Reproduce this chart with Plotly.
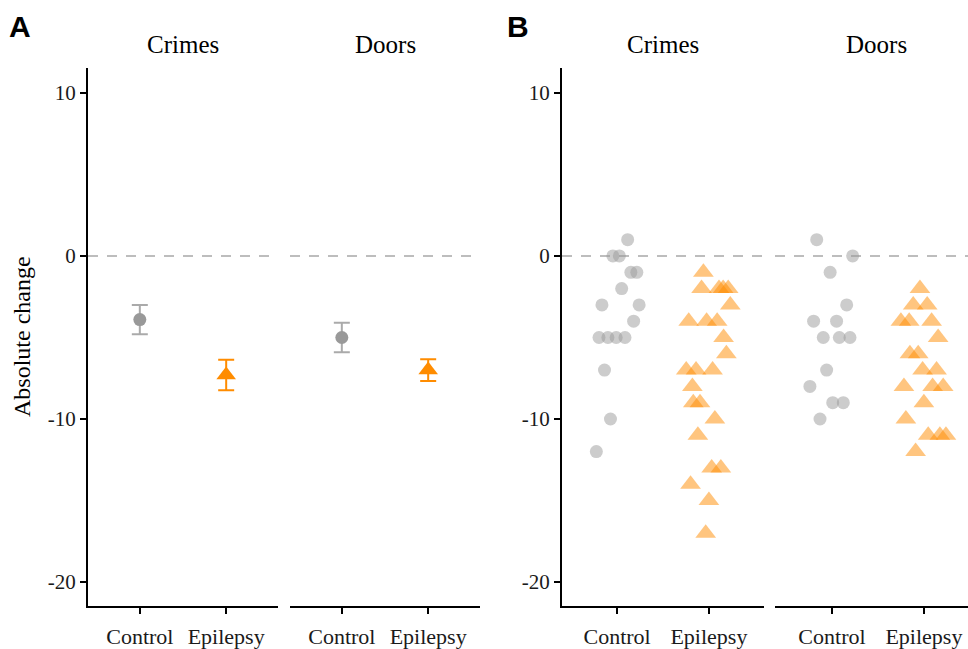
import plotly.graph_objects as go

# ---------------- data ----------------
groups = ["Control", "Epilepsy"]
tasks = ["Crimes", "Doors"]

# Panel A: mean and standard error per task/group
mean_crimes = [-3.9, -7.3]
se_crimes = [0.9, 0.93]
mean_doors = [-5.0, -7.0]
se_doors = [0.9, 0.67]

# Panel B: individual scores (with horizontal jitter)
crimes_control = [1, 0, 0, -1, -1, -2, -3, -3, -4, -5, -5, -5, -5, -7, -10, -12]
crimes_control_jit = [0.115, -0.046, 0.025, 0.15, 0.215, 0.05, -0.165, 0.24, 0.18,
                      -0.197, -0.1, -0.01, 0.086, -0.137, -0.072, -0.226]
crimes_epilepsy = [-1, -2, -2, -2, -2, -3, -4, -4, -4, -5, -6, -7, -7, -7, -8, -9, -9,
                   -10, -11, -13, -13, -14, -15, -17]
crimes_epilepsy_jit = [-0.06, -0.08, 0.11, 0.155, 0.21, 0.233, -0.22, -0.025, 0.09, 0.16,
                       0.19, -0.247, -0.14, 0.04, -0.18, -0.17, -0.097, 0.065, -0.12,
                       0.03, 0.13, -0.2, 0.0, -0.035]
doors_control = [1, 0, -1, -3, -4, -4, -5, -5, -5, -7, -8, -9, -9, -10]
doors_control_jit = [-0.166, 0.225, -0.02, 0.16, -0.2, 0.05, -0.095, 0.08, 0.196,
                     -0.058, -0.24, 0.008, 0.123, -0.13]
doors_epilepsy = [-2, -3, -3, -4, -4, -4, -5, -6, -6, -7, -7, -8, -8, -8, -9, -10,
                  -11, -11, -11, -12]
doors_epilepsy_jit = [-0.043, -0.116, 0.036, -0.25, -0.16, 0.084, 0.155, -0.152, -0.062,
                      -0.014, 0.138, -0.217, 0.095, 0.21, 0.0, -0.196, 0.047, 0.174,
                      0.24, -0.09]

y_ticks = [10, 0, -10, -20]
y_tick_labels = ["10", "0", "-10", "-20"]
panel_labels = ["A", "B"]
y_title = "Absolute change"

# ---------------- styling ----------------
GRAY = "#999999"
GRAY_ERR = "#aaaaaa"
ORANGE = "#ff8c00"
SERIF = "Liberation Serif, Times New Roman, serif"

fig = go.Figure()

# Panel A: means +/- SE
for xa, means, ses in [("x", mean_crimes, se_crimes), ("x2", mean_doors, se_doors)]:
    fig.add_trace(go.Scatter(
        x=[1], y=[means[0]], xaxis=xa, yaxis="y", mode="markers",
        marker=dict(symbol="circle", size=13, color=GRAY, line=dict(width=0)),
        error_y=dict(type="data", array=[ses[0]], color=GRAY_ERR, thickness=2, width=8),
        showlegend=False, hoverinfo="skip"))
    fig.add_trace(go.Scatter(
        x=[2], y=[means[1]], xaxis=xa, yaxis="y", mode="markers",
        marker=dict(symbol="triangle-up", size=17, color=ORANGE, line=dict(width=0)),
        error_y=dict(type="data", array=[ses[1]], color=ORANGE, thickness=2, width=8),
        showlegend=False, hoverinfo="skip"))

# Panel B: jittered raw points
for xa, ctl, ctl_j, epi, epi_j in [
        ("x3", crimes_control, crimes_control_jit, crimes_epilepsy, crimes_epilepsy_jit),
        ("x4", doors_control, doors_control_jit, doors_epilepsy, doors_epilepsy_jit)]:
    fig.add_trace(go.Scatter(
        x=[1 + j for j in ctl_j], y=ctl, xaxis=xa, yaxis="y2", mode="markers",
        marker=dict(symbol="circle", size=13, color=GRAY, opacity=0.5, line=dict(width=0)),
        showlegend=False, hoverinfo="skip"))
    fig.add_trace(go.Scatter(
        x=[2 + j for j in epi_j], y=epi, xaxis=xa, yaxis="y2", mode="markers",
        marker=dict(symbol="triangle-up", size=18, color=ORANGE, opacity=0.5, line=dict(width=0)),
        showlegend=False, hoverinfo="skip"))

W, H = 968, 649
ydom = [1 - 606 / H, 1 - 68 / H]
yrange = [-21.47, 11.53]

xaxis_common = dict(
    tickmode="array", tickvals=[1, 2], ticktext=groups,
    showline=True, linecolor="black", linewidth=2, mirror=False,
    ticks="outside", ticklen=6, tickwidth=2, tickcolor="black",
    showgrid=False, zeroline=False, ticklabelstandoff=4,
    tickfont=dict(family=SERIF, size=22, color="#1a1a1a"),
    fixedrange=True,
)
yaxis_common = dict(
    range=yrange, domain=ydom, tickmode="array",
    tickvals=y_ticks, ticktext=y_tick_labels,
    showline=True, linecolor="black", linewidth=2,
    ticks="outside", ticklen=6, tickwidth=2, tickcolor="black",
    showgrid=False, zeroline=False,
    tickfont=dict(family=SERIF, size=21, color="#1a1a1a"),
    fixedrange=True,
)

fig.update_layout(
    width=W, height=H,
    margin=dict(l=0, r=0, t=0, b=0),
    paper_bgcolor="white", plot_bgcolor="white",
    xaxis=dict(domain=[88 / W, 278 / W], range=[0.4, 2.6], anchor="y", **xaxis_common),
    xaxis2=dict(domain=[290 / W, 480 / W], range=[0.4, 2.6], anchor="y", **xaxis_common),
    xaxis3=dict(domain=[562 / W, 764 / W], range=[0.4, 2.6], anchor="y2", **xaxis_common),
    xaxis4=dict(domain=[775 / W, 1.0], range=[0.38, 2.48], anchor="y2", **xaxis_common),
    yaxis=dict(anchor="x", **yaxis_common),
    yaxis2=dict(anchor="x3", **yaxis_common),
)

# dashed zero reference line, one per facet
for xa, ya in [("x", "y"), ("x2", "y"), ("x3", "y2"), ("x4", "y2")]:
    fig.add_shape(type="line", xref=f"{xa} domain", yref=ya, x0=0, x1=1, y0=0, y1=0,
                  line=dict(color="#bdbdbd", width=2, dash="10px,9px"), layer="below")

# facet strip labels
strip_x = [(88 + 278) / 2, (290 + 480) / 2, (562 + 764) / 2, (775 + 968 + 9) / 2]
for sx, label in zip(strip_x, tasks + tasks):
    fig.add_annotation(x=sx / W, y=1 - 45 / H, xref="paper", yref="paper",
                       text=label, showarrow=False,
                       font=dict(family=SERIF, size=25, color="black"),
                       xanchor="center", yanchor="middle")

# panel labels
for px, lab in zip([20, 518], panel_labels):
    fig.add_annotation(x=px / W, y=1 - 27 / H, xref="paper", yref="paper",
                       text=f"<b>{lab}</b>", showarrow=False,
                       font=dict(family="Liberation Sans, Arial, sans-serif", size=30, color="black"),
                       xanchor="center", yanchor="middle")

# y-axis title for panel A
fig.add_annotation(x=22 / W, y=1 - 337 / H, xref="paper", yref="paper",
                   text=y_title, showarrow=False, textangle=-90,
                   font=dict(family=SERIF, size=24, color="black"),
                   xanchor="center", yanchor="middle")

fig.write_html("out.html", config={"displayModeBar": False},
               post_script="document.body.style.margin='0';document.body.style.overflow='hidden';")
